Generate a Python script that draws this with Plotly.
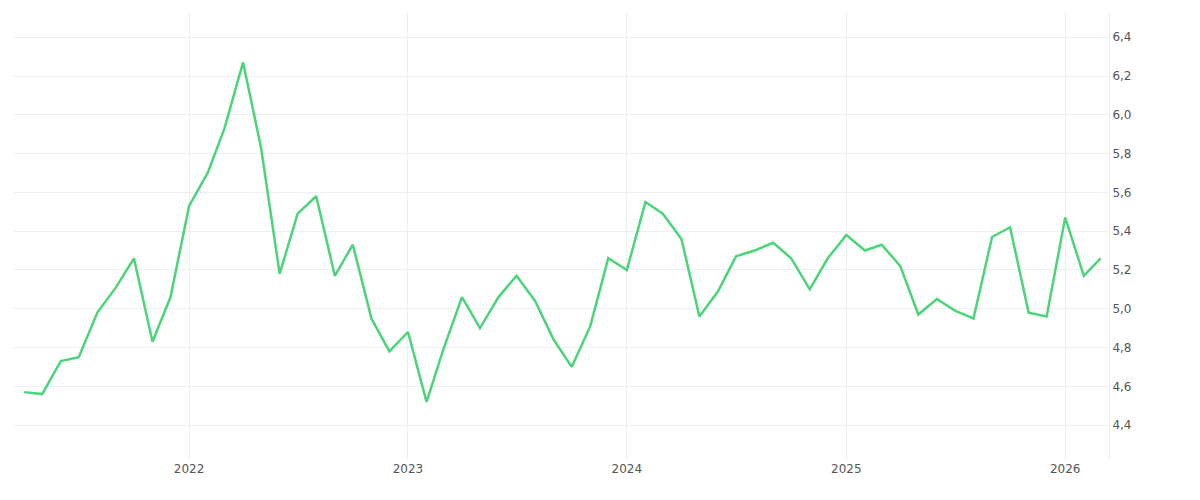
import plotly.graph_objects as go
import pandas as pd

dates = pd.date_range("2021-04-01", "2026-03-01", freq="MS")
values = [4.57, 4.56, 4.73, 4.75, 4.98, 5.11, 5.26, 4.83, 5.06,
          5.53, 5.70, 5.93, 6.27, 5.83, 5.18, 5.49, 5.58, 5.17, 5.33, 4.95, 4.78,
          4.88, 4.52, 4.79, 5.06, 4.90, 5.06, 5.17, 5.04, 4.84, 4.70, 4.91, 5.26,
          5.20, 5.55, 5.49, 5.36, 4.96, 5.09, 5.27, 5.30, 5.34, 5.26, 5.10, 5.26,
          5.38, 5.30, 5.33, 5.22, 4.97, 5.05, 4.99, 4.95, 5.37, 5.42, 4.98, 4.96,
          5.47, 5.17, 5.26]

fig = go.Figure()
fig.add_trace(go.Scatter(x=dates, y=values, mode="lines",
                         line=dict(color="#4cd47a", width=2.5)))

fig.update_layout(
    width=1184, height=484,
    margin=dict(l=6, r=83, t=4, b=32),
    plot_bgcolor="white", paper_bgcolor="white",
    showlegend=False,
    separators=",.",
    font=dict(family="DejaVu Sans", size=12, color="#555"),
)
fig.update_xaxes(range=["2021-03-15", "2026-03-15"], dtick="M12", tickformat="%Y",
                 tick0="2022-01-01", showgrid=True, gridcolor="#eeeeee",
                 showline=False, zeroline=False, ticks="")
fig.update_yaxes(side="right", range=[4.22, 6.53], dtick=0.2, tick0=4.4,
                 tickformat=".1f", showgrid=True, gridcolor="#eeeeee",
                 zeroline=False, showline=True, linecolor="#eeeeee")

fig.write_html("out.html")
